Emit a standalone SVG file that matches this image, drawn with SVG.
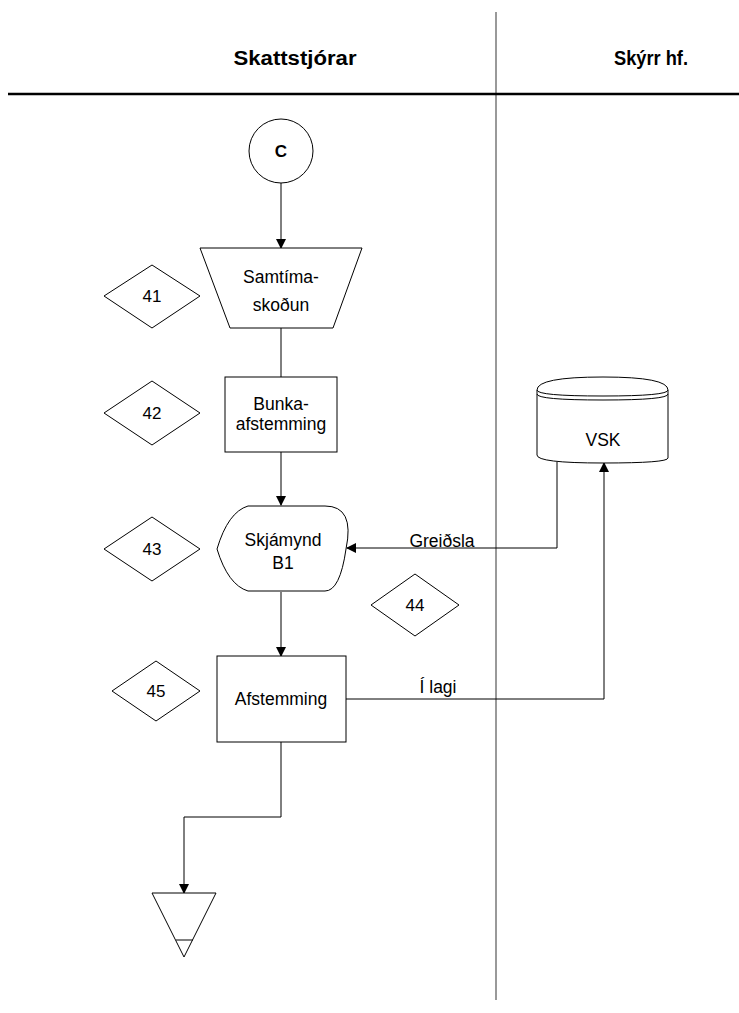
<svg xmlns="http://www.w3.org/2000/svg" width="739" height="1013" viewBox="0 0 739 1013">
<style>
.s{fill:#fff;stroke:#000;stroke-width:1}
.c{fill:none;stroke:#000;stroke-width:1}
.t{font-family:"Liberation Sans",Arial,sans-serif;font-size:17.5px;fill:#000;text-anchor:middle}
.n{font-family:"Liberation Sans",Arial,sans-serif;font-size:17px;fill:#000;text-anchor:middle}
.h{font-family:"Liberation Sans",Arial,sans-serif;font-size:20px;font-weight:bold;fill:#000;text-anchor:middle}
</style>
<defs>
<marker id="a" markerWidth="10" markerHeight="10" refX="9" refY="5" orient="auto" markerUnits="userSpaceOnUse">
<path d="M0,0 L10,5 L0,10 z" fill="#000"/>
</marker>
</defs>
<rect width="739" height="1013" fill="#fff"/>
<g id="lanes">
<line x1="496" y1="12" x2="496" y2="1000" stroke="#555" stroke-width="1.2"/>
<line x1="8" y1="94" x2="739" y2="94" stroke="#000" stroke-width="2.5"/>
<text class="h" x="295" y="65" textLength="123" lengthAdjust="spacingAndGlyphs">Skattstjórar</text>
<text class="h" x="651" y="65" textLength="74" lengthAdjust="spacingAndGlyphs">Skýrr hf.</text>
</g>
<g id="connectors">
<line class="c" x1="281" y1="183" x2="281" y2="248" marker-end="url(#a)"/>
<line class="c" x1="281" y1="328" x2="281" y2="377"/>
<line class="c" x1="281" y1="452" x2="281" y2="505" marker-end="url(#a)"/>
<line class="c" x1="281" y1="592" x2="281" y2="656" marker-end="url(#a)"/>
<polyline class="c" points="557,462 557,548 347,548" marker-end="url(#a)"/>
<polyline class="c" points="346,699 604,699 604,463" marker-end="url(#a)"/>
<polyline class="c" points="281,742 281,817 184,817 184,893" marker-end="url(#a)"/>
<text class="t" x="442" y="547">Greiðsla</text>
<text class="t" x="438" y="693">Í lagi</text>
</g>
<g id="nodeC">
<circle class="s" cx="281" cy="151" r="32"/>
<text class="n" x="281" y="157" font-weight="bold">C</text>
</g>
<g id="samtima">
<polygon class="s" points="200,248 362,248 333,328 230,328"/>
<text class="t" x="281" y="283">Samtíma-</text>
<text class="t" x="281" y="311">skoðun</text>
</g>
<g id="bunka">
<rect class="s" x="225" y="377" width="112" height="75"/>
<text class="t" x="281" y="410">Bunka-</text>
<text class="t" x="281" y="430">afstemming</text>
</g>
<g id="skjamynd">
<path class="s" d="M248,506 L325,506 Q355,506 346,549 Q340,591 325,591 L248,591 Q228,585 217,549 Q228,512 248,506 Z"/>
<text class="t" x="283" y="546">Skjámynd</text>
<text class="t" x="283" y="569">B1</text>
</g>
<g id="afstemming">
<rect class="s" x="217" y="656" width="129" height="86"/>
<text class="t" x="281" y="705">Afstemming</text>
</g>
<g id="vsk">
<path class="s" d="M537,390 Q537,377 603,377 Q668,377 668,390 L668,458 Q668,463 603,463 Q537,463 537,455 Z"/>
<path class="c" d="M537,390 Q537,396 603,396 Q668,396 668,390"/>
<path class="c" d="M537,394 Q537,400 603,400 Q668,400 668,394"/>
<text class="t" x="603" y="446">VSK</text>
</g>
<g id="d41">
<polygon class="s" points="104,296 152,265 200,296 152,328"/>
<text class="n" x="152" y="302">41</text>
</g>
<g id="d42">
<polygon class="s" points="104,413 152,381 200,413 152,445"/>
<text class="n" x="152" y="419">42</text>
</g>
<g id="d43">
<polygon class="s" points="104,549 152,517 200,549 152,581"/>
<text class="n" x="152" y="555">43</text>
</g>
<g id="d44">
<polygon class="s" points="371,605 415,574 459,605 415,636"/>
<text class="n" x="415" y="611">44</text>
</g>
<g id="d45">
<polygon class="s" points="112,691 156,661 200,691 156,721"/>
<text class="n" x="156" y="697">45</text>
</g>
<g id="terminal">
<polygon class="s" points="152,893 216,893 184,957"/>
<line class="c" x1="176" y1="940" x2="193" y2="940"/>
</g>
</svg>
